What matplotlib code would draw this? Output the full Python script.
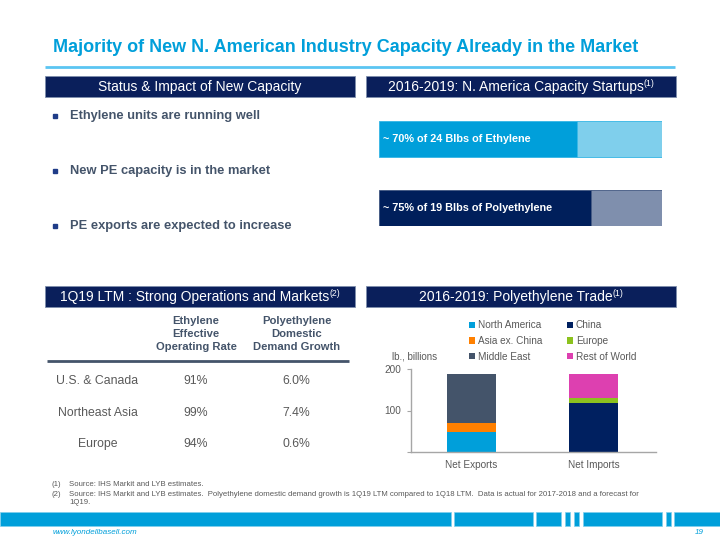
import matplotlib
matplotlib.use('Agg')
import matplotlib.pyplot as plt
from matplotlib.patches import Rectangle

plt.rcParams['font.family'] = ['Liberation Sans', 'DejaVu Sans']

# --- data ---
bullets = ['Ethylene units are running well',
           'New PE capacity is in the market',
           'PE exports are expected to increase']

cap_labels = ['~ 70% of 24 Blbs of Ethylene', '~ 75% of 19 Blbs of Polyethylene']
cap_done = [70, 75]
cap_total = [100, 100]

regions = ['U.S. & Canada', 'Northeast Asia', 'Europe']
head_rate = ['Ethylene', 'Effective', 'Operating Rate']
head_growth = ['Polyethylene', 'Domestic', 'Demand Growth']
op_rate = ['91%', '99%', '94%']
demand_growth = ['6.0%', '7.4%', '0.6%']

trade_cats = ['Net Exports', 'Net Imports']
exporters = ['North America', 'Asia ex. China', 'Middle East']
export_vals = [47, 24, 117]
importers = ['China', 'Europe', 'Rest of World']
import_vals = [117, 12, 59]

notes = ['Source: IHS Markit and LYB estimates.',
         'Source: IHS Markit and LYB estimates.  Polyethylene domestic demand growth is 1Q19 LTM compared to 1Q18 LTM.  '
         'Data is actual for 2017-2018 and a forecast for\n1Q19.']

# --- colours ---
NAVY = '#0A1F5B'
BLUE = '#009FDA'
TEXT = '#44546A'
GRAY = '#595959'
exp_colors = ['#009FDA', '#FF8000', '#44546A']
imp_colors = ['#002060', '#8CC21E', '#DD40B0']

W, H = 720, 540
fig = plt.figure(figsize=(7.2, 5.4), dpi=100)
bg = fig.add_axes([0, 0, 1, 1])
bg.set_xlim(0, W)
bg.set_ylim(H, 0)
bg.axis('off')
renderer = fig.canvas.get_renderer()


def frac(x0, y0, x1, y1):
    return [x0 / W, 1 - y1 / H, (x1 - x0) / W, (y1 - y0) / H]


def header(x0, x1, y0, y1, text, sup=None):
    bg.add_patch(Rectangle((x0, y0), x1 - x0, y1 - y0, fc=NAVY, ec='#7F8FAD', lw=0.6))
    cy = (y0 + y1) / 2 + 0.5
    t = bg.text(0, cy, text, color='white', fontsize=10, va='center', ha='left')
    w = t.get_window_extent(renderer).width
    ws = 0
    s = None
    if sup:
        s = bg.text(0, cy - 3.5, sup, color='white', fontsize=6.3, va='center', ha='left')
        ws = s.get_window_extent(renderer).width
    left = (x0 + x1) / 2 - (w + ws) / 2
    t.set_x(left)
    if s is not None:
        s.set_x(left + w)


# title
bg.text(53, 48, 'Majority of New N. American Industry Capacity Already in the Market',
        color=BLUE, fontsize=13, fontweight='bold', va='center', ha='left')
bg.plot([45, 675], [66.5, 66.5], color='#5BC5F2', lw=2, solid_capstyle='butt')

header(45, 355, 76, 97, 'Status & Impact of New Capacity')
header(366, 676, 76, 97, '2016-2019: N. America Capacity Startups', '(1)')
header(45, 355, 286, 307, '1Q19 LTM : Strong Operations and Markets', '(2)')
header(366, 676, 286, 307, '2016-2019: Polyethylene Trade', '(1)')

# bullets
for i, b in enumerate(bullets):
    y = 116 + i * 54.8
    bg.plot(55, y, marker='s', ms=3.2, color='#1F3C88')
    bg.text(70.5, y, b, color=TEXT, fontsize=9.3, fontweight='bold', va='center', ha='left')

# capacity startups bars
cap = fig.add_axes(frac(379, 121, 662, 226))
h = 0.52
ypos = list(range(len(cap_done)))
rest = [t - d for t, d in zip(cap_total, cap_done)]
cap.barh(ypos, cap_done, height=h, color=[BLUE, '#001F5B'], edgecolor=['#33B5E5', '#3F5580'], lw=0.6)
cap.barh(ypos, rest, left=cap_done, height=h, color=['#7FCFEC', '#7F8FAD'],
         edgecolor=['#33B5E5', '#3F5580'], lw=0.6)
for yp, lab in zip(ypos, cap_labels):
    cap.text(1.3, yp, lab, color='white', fontsize=7.8, fontweight='bold', va='center', ha='left')
cap.set_xlim(0, 100)
cap.set_ylim(len(cap_done) - 1 + h / 2, -h / 2)
cap.axis('off')

# table
for j, (cx, lines) in enumerate([(196, head_rate), (296.5, head_growth)]):
    for k, ln in enumerate(lines):
        bg.text(cx, 321 + k * 13.2, ln, color=TEXT, fontsize=8.1, fontweight='bold',
                va='center', ha='center')
bg.plot([47, 349], [360.7, 360.7], color=TEXT, lw=2, solid_capstyle='butt')
for i, r in enumerate(regions):
    y = 381.5 + i * 31.2
    bg.text(97.5, y, r, color=GRAY, fontsize=8.8, va='center', ha='center')
    bg.text(196, y, op_rate[i], color=GRAY, fontsize=8.8, va='center', ha='center')
    bg.text(296.5, y, demand_growth[i], color=GRAY, fontsize=8.8, va='center', ha='center')

# polyethylene trade chart
ax = fig.add_axes(frac(411, 369, 656, 452))
xpos = list(range(len(trade_cats)))
handles = []
bottom = 0
for name, v, c in zip(exporters, export_vals, exp_colors):
    handles.append(ax.bar(xpos[0], v, bottom=bottom, width=0.4, color=c, label=name))
    bottom += v
bottom = 0
for name, v, c in zip(importers, import_vals, imp_colors):
    handles.append(ax.bar(xpos[1], v, bottom=bottom, width=0.4, color=c, label=name))
    bottom += v
ax.set_xlim(-0.49, 1.51)
ax.set_ylim(0, 200)
ax.set_yticks([0, 100, 200])
ax.set_yticklabels(['', '100', '200'])
ax.set_xticks(xpos)
ax.set_xticklabels(trade_cats)
ax.tick_params(axis='y', labelsize=7.2, labelcolor=GRAY, color='#A6A6A6', length=3, pad=4)
ax.tick_params(axis='x', labelsize=7.2, labelcolor=GRAY, length=0, pad=6)
for sp in ['top', 'right']:
    ax.spines[sp].set_visible(False)
for sp in ['left', 'bottom']:
    ax.spines[sp].set_color('#A6A6A6')
    ax.spines[sp].set_linewidth(1)
ax.set_facecolor('none')
bg.text(392, 356.5, 'lb., billions', color=GRAY, fontsize=7, va='center', ha='left')
leg = ax.legend(handles=handles, ncol=2, loc='upper left', bbox_to_anchor=(468.5 / W, 1 - 320.5 / H),
                bbox_transform=fig.transFigure, frameon=False, fontsize=7.2,
                handlelength=0.6, handleheight=0.6, handletextpad=0.3, columnspacing=2.5,
                labelspacing=0.55, borderpad=0, borderaxespad=0)
for t in leg.get_texts():
    t.set_color(GRAY)

# footnotes
for i, n in enumerate(notes):
    y = 481.5 + i * 9.5
    bg.text(51, y, '(%d)' % (i + 1), color=GRAY, fontsize=5.6, va='top', ha='left')
    bg.text(69, y, n, color=GRAY, fontsize=5.6, va='top', ha='left', linespacing=1.25)

# footer stripe
for x0, x1 in [(0, 451), (454, 533), (536, 561), (565, 570), (574, 579), (583, 662), (666, 671), (674, 720)]:
    bg.add_patch(Rectangle((x0, 512), x1 - x0, 14, fc=BLUE, ec='#7FCFEC', lw=0.5))
bg.text(53, 532, 'www.lyondellbasell.com', color=BLUE, fontsize=5.8, style='italic', va='center', ha='left')
bg.text(704, 532, '19', color=BLUE, fontsize=5.8, style='italic', va='center', ha='right')

fig.savefig('out.png', dpi=100)
